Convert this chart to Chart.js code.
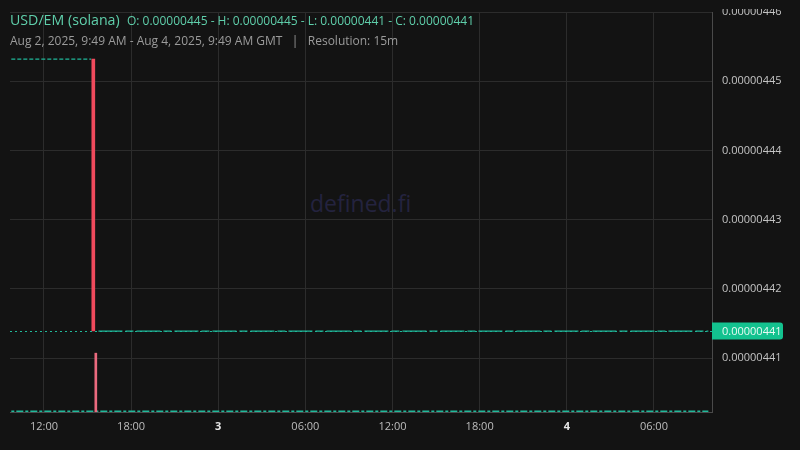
<!DOCTYPE html>
<html><head><meta charset="utf-8">
<script src="https://cdn.jsdelivr.net/npm/chart.js@4.4.1/dist/chart.umd.min.js"></script>
<style>
html,body{margin:0;padding:0;background:#131313;overflow:hidden}
#wrap{position:relative;width:800px;height:450px;background:#131313}
#c{position:absolute;left:0;top:0}
.t{position:absolute;font-family:"Open Sans",sans-serif;white-space:nowrap;line-height:1}
</style></head>
<body>
<div id="wrap">
<div class="t" style="left:310px;top:192px;font-size:23px;color:#24233f">defined.fi</div>
<canvas id="c" width="800" height="450"></canvas>
<div style="position:absolute;left:712px;top:0;width:88px;height:9px;background:#131313"></div>
<div class="t" style="left:10px;top:12.5px;font-size:14.2px;color:#5fcfab">USD/EM (solana)</div>
<div class="t" id="ohlc" style="left:127px;top:14.5px;font-size:12px;color:#5fcfab"></div>
<div class="t" id="sub" style="left:10px;top:34.5px;font-size:12px;color:#9b9b9b"></div>
</div>
<script>
// ---- data (times in hours since Aug 2, 2025 00:00 GMT) ----
const priceTimes  = [9.75, 15.25, null, 15.75, 57.75];
const priceCloses = [0.0000044532, 0.0000044532, null, 0.0000044139, 0.0000044139];
const candleTimes = [15.5];
const candleOpens = [0.0000044532];
const candleCloses = [0.0000044139];
const volTimes = [9.75, 15.25, 15.75, 57.75];
const volValues = [15, 15, 15, 15];
const bigVolTimes = [15.5];
const bigVolValues = [1250];
const lastPrice = 0.0000044139;
const yTicks = [0.00000441, 0.00000442, 0.00000443, 0.00000444, 0.00000445, 0.00000446];
const xTicks = [12, 18, 24, 30, 36, 42, 48, 54];
const xTickLabels = ["12:00", "18:00", "3", "06:00", "12:00", "18:00", "4", "06:00"];
const ohlcText = "O: 0.00000445 - H: 0.00000445 - L: 0.00000441 - C: 0.00000441";
const subText = "Aug 2, 2025, 9:49 AM - Aug 4, 2025, 9:49 AM GMT \u00a0\u00a0|\u00a0\u00a0 Resolution: 15m";

document.getElementById('ohlc').textContent = ohlcText;
document.getElementById('sub').textContent = subText;

const TEAL = '#21b89a';
const RED = '#f04a5c';

const linePts = priceTimes.map((t, i) => t === null ? {x: 15.5, y: null} : {x: t, y: priceCloses[i]});
const candlePts = candleTimes.map((t, i) => ({x: t, y: [candleCloses[i], candleOpens[i]]}));
const volPts = volTimes.map((t, i) => ({x: t, y: volValues[i]}));
const bigVolPts = bigVolTimes.map((t, i) => ({x: t, y: bigVolValues[i]}));

function isDay(c) {
  if (!c || !c.tick) return false;
  const i = xTicks.indexOf(c.tick.value);
  return xTickLabels[i] === '3' || xTickLabels[i] === '4';
}

const lastPricePlugin = {
  id: 'lastPrice',
  afterDatasetsDraw(chart) {
    const {ctx} = chart;
    const xs = chart.scales.x;
    const y = chart.scales.y.getPixelForValue(lastPrice);
    ctx.save();
    ctx.strokeStyle = TEAL;
    ctx.lineWidth = 1;
    ctx.setLineDash([2, 3]);
    ctx.beginPath();
    ctx.moveTo(xs.left, Math.round(y) + 0.5);
    ctx.lineTo(xs.right, Math.round(y) + 0.5);
    ctx.stroke();
    ctx.restore();
  },
  afterDraw(chart) {
    const {ctx} = chart;
    const xs = chart.scales.x;
    const y = Math.round(chart.scales.y.getPixelForValue(lastPrice));
    ctx.save();
    ctx.fillStyle = '#13c28f';
    const x0 = xs.right, w = 71, h = 17, y0 = y - 8.5;
    ctx.beginPath();
    ctx.moveTo(x0, y0);
    ctx.lineTo(x0 + w - 3, y0);
    ctx.quadraticCurveTo(x0 + w, y0, x0 + w, y0 + 3);
    ctx.lineTo(x0 + w, y0 + h - 3);
    ctx.quadraticCurveTo(x0 + w, y0 + h, x0 + w - 3, y0 + h);
    ctx.lineTo(x0, y0 + h);
    ctx.closePath();
    ctx.fill();
    ctx.fillStyle = '#eafaf4';
    ctx.font = '11px "Open Sans"';
    ctx.textBaseline = 'middle';
    ctx.textAlign = 'left';
    ctx.fillText(lastPrice.toFixed(8), x0 + 10, y + 0.5);
    ctx.restore();
  }
};

new Chart(document.getElementById('c'), {
  data: {
    datasets: [
      {
        type: 'line', data: volPts, yAxisID: 'yv', borderColor: TEAL, borderWidth: 1.5,
        borderDash: [3, 2, 7, 2], pointRadius: 0, order: 5
      },
      {
        type: 'bar', data: bigVolPts, yAxisID: 'yv', backgroundColor: '#ea6a7e',
        barThickness: 2, order: 4
      },
      {
        type: 'line', data: linePts, yAxisID: 'y', borderColor: TEAL, borderWidth: 1.3,
        pointRadius: 0, spanGaps: false, order: 2,
        segment: { borderDash: ctx => ctx.p0.parsed.x < 15.5 ? [4, 2] : [24, 3, 8, 3] }
      },
      {
        type: 'bar', data: candlePts, yAxisID: 'y', backgroundColor: RED,
        barThickness: 3, order: 1
      }
    ]
  },
  options: {
    responsive: false,
    animation: false,
    devicePixelRatio: 1,
    layout: { padding: { left: 10, top: 12, right: 0, bottom: 0 } },
    plugins: { legend: { display: false }, tooltip: { enabled: false } },
    scales: {
      x: {
        type: 'linear', min: 9.66, max: 58.0, offset: false,
        afterBuildTicks: ax => { ax.ticks = xTicks.map(v => ({value: v})); },
        afterFit: ax => { ax.height = 38; ax.paddingLeft = 0; ax.paddingRight = 0; },
        grid: { color: '#2c2c2c', drawTicks: false, offset: false },
        border: { color: '#4a4a4a' },
        ticks: {
          padding: 8,
          maxRotation: 0,
          autoSkip: false,
          callback: (v) => { const i = xTicks.indexOf(v); return i >= 0 ? xTickLabels[i] : ''; },
          color: (c) => isDay(c) ? '#e6e6e6' : '#bdbdbd',
          font: (c) => ({family: 'Open Sans', size: 11, weight: isDay(c) ? 'bold' : 'normal'})
        }
      },
      y: {
        position: 'right', min: 0.0000044022, max: 0.00000446,
        afterBuildTicks: ax => { ax.ticks = yTicks.map(v => ({value: v})); },
        afterFit: ax => { ax.width = 88; ax.paddingTop = 0; ax.paddingBottom = 0; },
        grid: { color: '#2c2c2c', drawTicks: false },
        border: { color: '#4a4a4a' },
        ticks: {
          padding: 10,
          color: '#c4c4c4',
          font: { family: 'Open Sans', size: 11 },
          callback: v => Number(v).toFixed(8)
        }
      },
      yv: {
        display: false, min: 0, max: 8500
      }
    }
  },
  plugins: [lastPricePlugin]
});
</script>
</body></html>
